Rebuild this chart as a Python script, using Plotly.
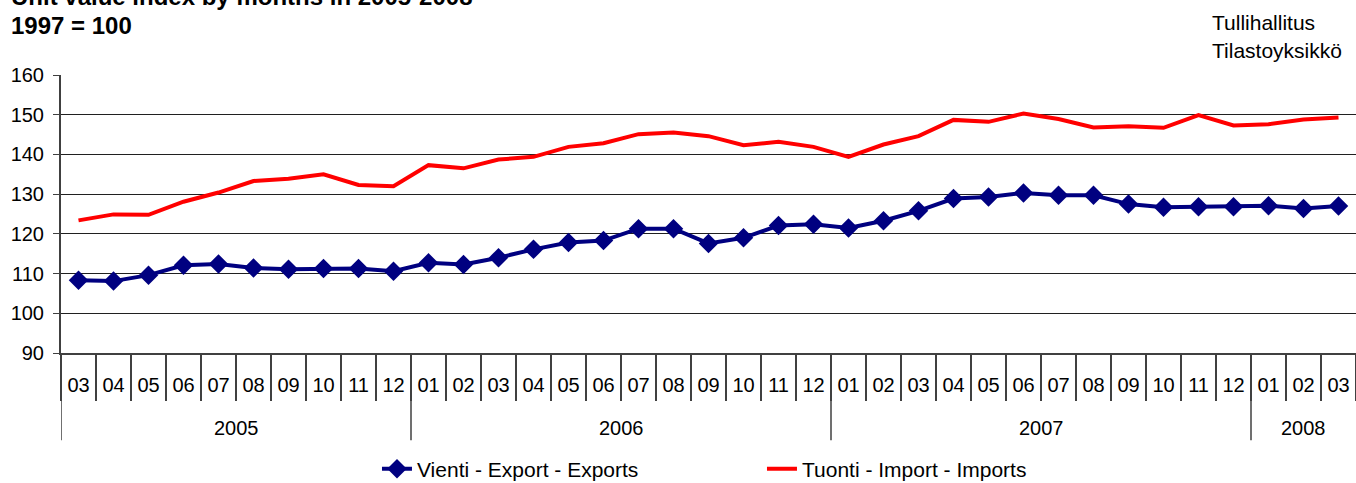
import plotly.graph_objects as go

years = ["2005"] * 10 + ["2006"] * 12 + ["2007"] * 12 + ["2008"] * 3
months = ["03", "04", "05", "06", "07", "08", "09", "10", "11", "12",
          "01", "02", "03", "04", "05", "06", "07", "08", "09", "10", "11", "12",
          "01", "02", "03", "04", "05", "06", "07", "08", "09", "10", "11", "12",
          "01", "02", "03"]

exports = [108.3, 108.1, 109.6, 112.1, 112.4, 111.4, 111.1, 111.3, 111.3, 110.6,
           112.7, 112.3, 114.0, 116.1, 117.8, 118.3, 121.3, 121.3, 117.6, 119.0, 122.1, 122.4,
           121.5, 123.3, 125.8, 128.9, 129.3, 130.3, 129.7, 129.7, 127.5, 126.7, 126.8, 126.8,
           127.1, 126.4, 127.0]

imports = [123.4, 124.9, 124.8, 128.1, 130.4, 133.3, 133.9, 135.0, 132.3, 132.0,
           137.3, 136.5, 138.7, 139.4, 141.9, 142.8, 145.1, 145.5, 144.6, 142.3, 143.2, 141.9,
           139.4, 142.5, 144.6, 148.7, 148.2, 150.3, 148.9, 146.8, 147.1, 146.7, 149.9, 147.3,
           147.6, 148.8, 149.3]

yticks = [90, 100, 110, 120, 130, 140, 150, 160]

FONT = "Liberation Sans, Arial, sans-serif"
AXIS_COLOR = "#404040"

pos = list(range(len(months)))  # month slot index on the x axis

fig = go.Figure()
fig.add_trace(go.Scatter(
    x=pos, y=exports, name="Vienti - Export - Exports",
    mode="lines+markers",
    line=dict(color="#000080", width=4),
    marker=dict(symbol="diamond", size=15, color="#000080"),
))
fig.add_trace(go.Scatter(
    x=pos, y=imports, name="Tuonti - Import - Imports",
    mode="lines",
    line=dict(color="#FF0000", width=4),
))

# year groups: dividers and centred labels (derived from the years list)
shapes = []
annotations = []
groups = []
for i, y in enumerate(years):
    if not groups or groups[-1][0] != y:
        groups.append([y, i, i])
    else:
        groups[-1][2] = i
for y, start, end in groups:
    shapes.append(dict(type="line", xref="x", yref="paper",
                       x0=start - 0.5, x1=start - 0.5, y0=0, y1=-0.314,
                       line=dict(color=AXIS_COLOR, width=1.5)))
    annotations.append(dict(text=y, xref="x", yref="paper",
                            x=(start + end) / 2, y=0, yshift=-75,
                            xanchor="center", yanchor="middle", showarrow=False,
                            font=dict(size=20, family=FONT)))

annotations += [
    dict(text="<b>Unit value index by months in 2005-2008</b>", xref="paper", yref="paper",
         x=0, xshift=-52, y=1, yshift=79, xanchor="left", yanchor="middle",
         showarrow=False, font=dict(size=24, family=FONT)),
    dict(text="<b>1997 = 100</b>", xref="paper", yref="paper",
         x=0, xshift=-52, y=1, yshift=50, xanchor="left", yanchor="middle",
         showarrow=False, font=dict(size=24, family=FONT)),
    dict(text="Tullihallitus", xref="paper", yref="paper",
         x=1, xshift=-146, y=1, yshift=53, xanchor="left", yanchor="middle",
         showarrow=False, font=dict(size=21, family=FONT)),
    dict(text="Tilastoyksikkö", xref="paper", yref="paper",
         x=1, xshift=-146, y=1, yshift=25, xanchor="left", yanchor="middle",
         showarrow=False, font=dict(size=21, family=FONT)),
]

fig.update_layout(
    width=1356, height=483,
    margin=dict(l=61, r=0, t=75, b=130, autoexpand=False),
    paper_bgcolor="white", plot_bgcolor="white",
    font=dict(family=FONT, color="black"),
    showlegend=True,
    legend=dict(
        orientation="h", xref="paper", yref="paper",
        x=0.244, xanchor="left", y=-0.418, yanchor="middle",
        font=dict(size=21, family=FONT), entrywidth=340, entrywidthmode="pixels",
        bgcolor="rgba(0,0,0,0)",
    ),
    xaxis=dict(
        range=[-0.5, len(months) - 0.5],
        tickvals=pos, ticktext=months,
        showline=True, linecolor=AXIS_COLOR, linewidth=2,
        ticks="",
        minor=dict(ticks="outside", tick0=-0.5, dtick=1, ticklen=46,
                   tickcolor=AXIS_COLOR, tickwidth=1.5, showgrid=False),
        tickfont=dict(size=20, family=FONT),
        ticklabelstandoff=13,
        showgrid=False, zeroline=False,
    ),
    yaxis=dict(
        range=[90, 160], tickvals=yticks,
        showgrid=True, gridcolor="#202020", gridwidth=1,
        showline=True, linecolor=AXIS_COLOR, linewidth=2,
        ticks="outside", ticklen=6, tickcolor=AXIS_COLOR,
        tickfont=dict(size=20, family=FONT),
        ticklabelstandoff=5,
        zeroline=False,
    ),
    shapes=shapes,
    annotations=annotations,
)

fig.write_html("out.html", config={"displayModeBar": False},
               post_script="document.body.style.margin='0';")
